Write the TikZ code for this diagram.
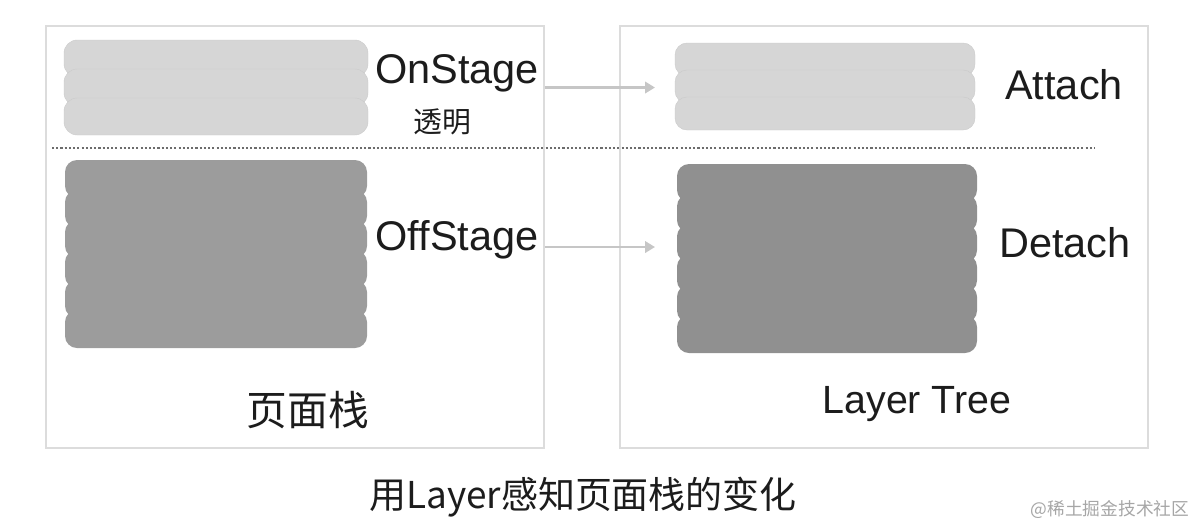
\documentclass[tikz,border=0pt]{standalone}
\usepackage{fontspec}
\setmainfont{Liberation Sans}
\newfontfamily\cjk{Noto Sans CJK SC}
\usetikzlibrary{arrows.meta,calc}
\definecolor{litefill}{HTML}{D6D6D6}
\definecolor{liteedge}{HTML}{CBCBCB}
\definecolor{darkfill}{HTML}{9C9C9C}
\definecolor{darkfillr}{HTML}{909090}
\definecolor{framegray}{HTML}{DCDCDC}
\definecolor{arrgray}{HTML}{C6C6C6}
\definecolor{ink}{HTML}{1C1C1C}
\tikzset{panel/.style={draw=framegray, line width=1.3pt, inner sep=0pt},
  stk/.style={inner sep=0pt, outer sep=0pt, anchor=north west},
  lbl/.style={text=ink, inner sep=0pt, font=\fontsize{29.5}{32}\selectfont},
  hanlbl/.style={text=ink, inner sep=0pt, font=\cjk\fontsize{#1}{#1}\selectfont},
  flow/.style={draw=arrgray, line width=1.8pt, -{Triangle[length=7pt,width=8pt]}}}

\begin{document}
\begin{tikzpicture}[x=0.025cm, y=-0.025cm]
  \useasboundingbox (0,0) rectangle (1200,528);
  % frames
  \node[panel, anchor=north west, minimum width=12.45cm, minimum height=10.55cm] (pagebox) at (45,25) {};
  \node[panel, anchor=north west, minimum width=13.2cm, minimum height=10.55cm] (treebox) at (619,25) {};
  % stacks
  \node[stk, minimum width=7.6cm, minimum height=2.375cm] (onstk) at (64,40) {};
  \node[stk, minimum width=7.55cm, minimum height=4.7cm] (offstk) at (65,160) {};
  \node[stk, minimum width=7.5cm, minimum height=2.175cm] (attstk) at (675,43) {};
  \node[stk, minimum width=7.5cm, minimum height=4.7cm] (detstk) at (677,164) {};
  \foreach \i in {0,1,2}
    \draw[fill=litefill, draw=liteedge, line width=0.3pt, rounded corners=0.33cm]
      ($(onstk.north west)+(0,\i*29)$) rectangle ++(304,37);
  \foreach \i in {0,1,2}
    \draw[fill=litefill, draw=liteedge, line width=0.3pt, rounded corners=0.3cm]
      ($(attstk.north west)+(0,\i*27)$) rectangle ++(300,33);
  \foreach \i in {0,...,5}
    \fill[darkfill, rounded corners=0.3cm] ($(offstk.north west)+(0,\i*30)$) rectangle ++(302,38);
  \foreach \i in {0,...,5}
    \fill[darkfillr, rounded corners=0.3cm] ($(detstk.north west)+(0,\i*30.2)$) rectangle ++(300,38);
  % divider
  \draw[gray!85!black, line width=1.6pt, dash pattern=on 1.5pt off 1.5pt] (52,148) -- (1095,148);
  % labels
  \node[lbl] (onlbl) at (457,73) {OnStage};
  \node[hanlbl=20.5] (toumlbl) at (442,122) {透明};
  \node[lbl] (offlbl) at (457,240) {OffStage};
  \node[lbl] (attlbl) at (1064,85) {Attach};
  \node[lbl] (detlbl) at (1065,243) {Detach};
  \node[hanlbl=29] (pagelbl) at (308,410) {页面栈};
  \node[lbl, font=\fontsize{28}{30}\selectfont] (treelbl) at (917,404) {Layer Tree};
  \node[hanlbl=26.3] (caption) at (583,497) {用Layer感知页面栈的变化};
  \node[inner sep=0pt, text=gray!70, font=\cjk\fontsize{12.6}{13}\selectfont] (mark) at (1110,509) {@稀土掘金技术社区};
  % arrows
  \draw[flow, shorten >=0.5cm] (pagebox.east |- onstk.west) -- (attstk.west |- onstk.west);
  \draw[flow, shorten >=0.55cm] ($(pagebox.east |- offstk.west)+(0,-7)$) -- ($(detstk.west |- offstk.west)+(0,-7)$);
\end{tikzpicture}
\end{document}
